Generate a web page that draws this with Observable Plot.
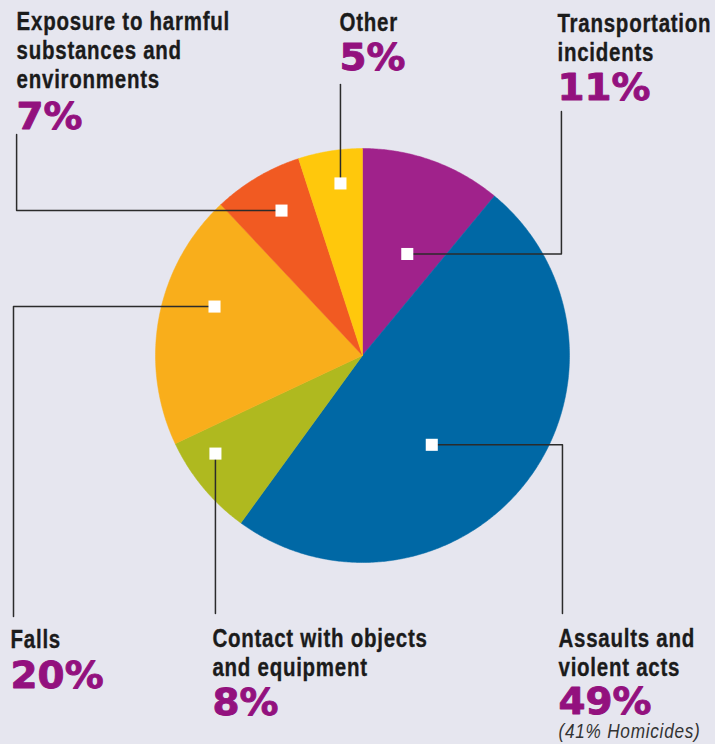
<!DOCTYPE html>
<html><head><meta charset="utf-8">
<script src="https://cdn.jsdelivr.net/npm/d3@7"></script>
<script src="https://cdn.jsdelivr.net/npm/@observablehq/plot@0.6"></script>
<style>
html,body{margin:0;padding:0;background:#e6e6ef;}
#chart svg{display:block;}
</style></head><body><div id="chart"></div>
<script>
// ---- data ----
const categories = ["Transportation incidents", "Assaults and violent acts", "Contact with objects and equipment", "Falls", "Exposure to harmful substances and environments", "Other"];
const labels = ["Transportation\nincidents", "Assaults and\nviolent acts", "Contact with objects\nand equipment", "Falls", "Exposure to harmful\nsubstances and\nenvironments", "Other"];
const values = [11, 49, 8, 20, 7, 5];
const notes = ["", "(41% Homicides)", "", "", "", ""];
const colors = ["#a0228b", "#0068a5", "#afb91f", "#f9ae1b", "#f15a22", "#ffc80c"];

// ---- annotation layout (in pie-radius units, pie centred at 0,0) ----
const layout = [
  {marker: [23.8, 0.536], elbowX: 0.961, endY: 1.179, x: 0.942, labelY: 1.425, pctY: 1.232},
  {marker: [142.2, 0.546], elbowX: 0.966, endY: -1.246, x: 0.947, labelY: -1.546, pctY: -1.734, noteY: -1.850},
  {marker: [236.3, 0.854], elbowX: null, endY: -1.246, x: -0.725, labelY: -1.546, pctY: -1.739},
  {marker: [288.3, 0.753], elbowX: -1.686, endY: -1.261, x: -1.700, labelY: -1.411, pctY: -1.604},
  {marker: [330.8, 0.802], elbowX: -1.671, endY: 1.068, x: -1.671, labelY: 1.290, pctY: 1.092},
  {marker: [352.7, 0.838], elbowX: null, endY: 1.309, x: -0.111, labelY: 1.570, pctY: 1.377}
];

const W = 715, H = 744, R = 207, CX = 362, CY = 355;
const sans = "'Liberation Sans', Arial, Helvetica, sans-serif";

const arcs = d3.pie().sort(null)(values);
const slicePts = arcs.flatMap((a, i) => {
  const n = Math.max(2, Math.ceil((a.endAngle - a.startAngle) / (Math.PI / 360)));
  const pts = [{cat: categories[i], x: 0, y: 0}];
  for (let k = 0; k <= n; k++) {
    const t = a.startAngle + (a.endAngle - a.startAngle) * k / n;
    pts.push({cat: categories[i], x: Math.sin(t), y: Math.cos(t)});
  }
  pts.push({cat: categories[i], x: 0, y: 0});
  return pts;
});

const rows = categories.map((c, i) => {
  const L = layout[i];
  const a = L.marker[0] * Math.PI / 180;
  return {cat: c, label: labels[i], value: values[i], note: notes[i],
          mx: Math.sin(a) * L.marker[1], my: Math.cos(a) * L.marker[1], ...L};
});

const leaderPts = rows.flatMap(r => {
  const pts = [{cat: r.cat, x: r.mx, y: r.my}];
  let ex = r.mx;
  if (r.elbowX != null) { ex = r.elbowX; pts.push({cat: r.cat, x: ex, y: r.my}); }
  pts.push({cat: r.cat, x: ex, y: r.endY});
  return pts;
});

const chart = Plot.plot({
  width: W, height: H,
  margin: 0,
  x: {domain: [-CX / R, (W - CX) / R], range: [0, W], axis: null},
  y: {domain: [-(H - CY) / R, CY / R], range: [H, 0], axis: null},
  color: {type: "ordinal", domain: categories, range: colors},
  style: {background: "#e6e6ef", overflow: "visible"},
  marks: [
    Plot.line(slicePts, {x: "x", y: "y", z: "cat", fill: "cat", stroke: "cat", strokeWidth: 0.5, curve: "linear"}),
    Plot.line(leaderPts, {x: "x", y: "y", z: "cat", stroke: "#2b2b2b", strokeWidth: 1.5, curve: "linear"}),
    Plot.dot(rows, {x: "mx", y: "my", symbol: "square", r: 6.8, fill: "white"}),
    Plot.text(rows, {x: "x", y: "labelY", text: "label", textAnchor: "start", lineAnchor: "bottom", lineHeight: 1.16,
      fontSize: 25, fontWeight: "bold", fontFamily: sans, fill: "#1b1b1b", stroke: "#1b1b1b", strokeWidth: 0.35}),
    Plot.text(rows, {x: "x", y: "pctY", text: d => d.value + "%", textAnchor: "start", lineAnchor: "bottom",
      fontSize: 37, fontWeight: "bold", fontFamily: "'DejaVu Sans', sans-serif", fill: "#93117e",
      stroke: "#93117e", strokeWidth: 0.9}),
    Plot.text(rows.filter(d => d.note), {x: "x", y: "noteY", text: "note", textAnchor: "start", lineAnchor: "bottom",
      fontSize: 21, fontStyle: "italic", fontFamily: sans, fill: "#333"})
  ]
});
// condense / extend type horizontally around each text's anchor
const textGroups = d3.select(chart).selectAll('g[aria-label="text"]').nodes();
const squeeze = (g, k, spacing) => d3.select(g).selectAll("text").each(function () {
  const t = this.getAttribute("transform") || "";
  this.setAttribute("transform", t + ` scale(${k},1)`);
  if (spacing != null) this.style.letterSpacing = spacing + "px";
});
squeeze(textGroups[0], 0.82, 0.9);
squeeze(textGroups[1], 1.05, null);
squeeze(textGroups[2], 0.82, 0.9);
document.getElementById("chart").append(chart);
</script></body></html>
